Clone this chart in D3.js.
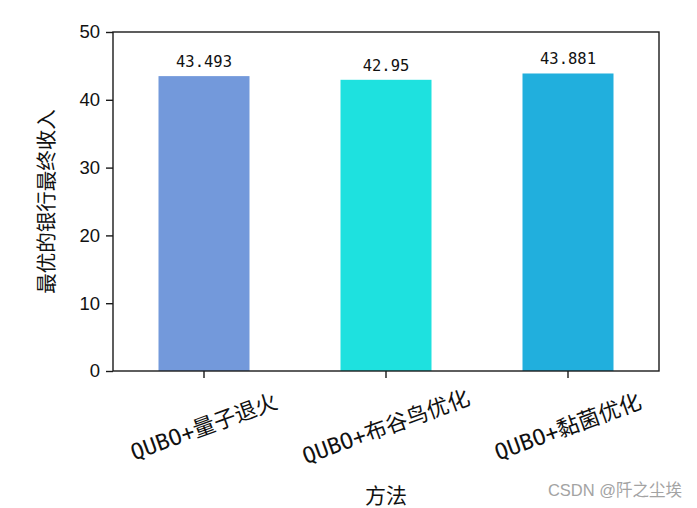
<!DOCTYPE html>
<html><head><meta charset="utf-8">
<script src="https://cdn.jsdelivr.net/npm/d3@7"></script>
<style>body{margin:0;background:#fff;}svg{display:block;}</style>
</head><body>
<script>
const categories = ["QUBO+量子退火", "QUBO+布谷鸟优化", "QUBO+黏菌优化"];
const values = [43.493, 42.95, 43.881];
const valueLabels = ["43.493", "42.95", "43.881"];
const barColors = ["#7399DB", "#1EE1DF", "#21AFDD"];
const yTicks = [0, 10, 20, 30, 40, 50];
const yLabel = "最优的银行最终收入";
const xLabel = "方法";
const watermark = "CSDN @阡之尘埃";

const W = 697, H = 508;
const m = {left: 113, right: 659, top: 32, bottom: 371};
const svg = d3.select("body").append("svg").attr("width", W).attr("height", H);

const x = d3.scaleBand().domain(categories).range([m.left, m.right]).paddingInner(0.5).paddingOuter(0.25);
const y = d3.scaleLinear().domain([0, 50]).range([m.bottom, m.top]);

svg.selectAll("rect.bar").data(categories).join("rect")
  .attr("class", "bar")
  .attr("x", d => x(d)).attr("width", x.bandwidth())
  .attr("y", (d, i) => y(values[i])).attr("height", (d, i) => y(0) - y(values[i]))
  .attr("fill", (d, i) => barColors[i]);

svg.selectAll("text.val").data(categories).join("text")
  .attr("class", "val")
  .attr("x", d => x(d) + x.bandwidth() / 2)
  .attr("y", (d, i) => y(values[i]) - 9)
  .attr("text-anchor", "middle")
  .attr("font-family", "'DejaVu Sans Mono', 'Noto Sans CJK SC', monospace")
  .attr("font-size", 15.5).attr("fill", "#111")
  .text((d, i) => valueLabels[i]);

// frame
svg.append("rect").attr("x", m.left).attr("y", m.top)
  .attr("width", m.right - m.left).attr("height", m.bottom - m.top)
  .attr("fill", "none").attr("stroke", "#1a1a1a").attr("stroke-width", 1.4);

// y axis
const yAxis = svg.append("g").attr("transform", `translate(${m.left},0)`)
  .call(d3.axisLeft(y).tickValues(yTicks).tickSize(7).tickPadding(6).tickFormat(d3.format("d")));
yAxis.select(".domain").remove();
yAxis.selectAll("line").attr("stroke", "#1a1a1a").attr("stroke-width", 1.4);
yAxis.selectAll("text").attr("font-family", "'Liberation Sans', Arial, sans-serif")
  .attr("font-size", 18.5).attr("fill", "#111");

// x axis ticks
const xAxis = svg.append("g").attr("transform", `translate(0,${m.bottom})`)
  .call(d3.axisBottom(x).tickSize(7).tickFormat(""));
xAxis.select(".domain").remove();
xAxis.selectAll("line").attr("stroke", "#1a1a1a").attr("stroke-width", 1.4);

// rotated x tick labels
svg.selectAll("text.xt").data(categories).join("text")
  .attr("class", "xt")
  .attr("transform", d => `translate(${x(d) + x.bandwidth() / 2},427) rotate(-20)`)
  .attr("text-anchor", "middle").attr("dominant-baseline", "central")
  .attr("font-family", "'DejaVu Sans Mono', 'Noto Sans CJK SC', monospace")
  .attr("font-size", 22).attr("fill", "#111")
  .text(d => d);

// axis titles
svg.append("text").attr("x", (m.left + m.right) / 2).attr("y", 494)
  .attr("text-anchor", "middle").attr("dominant-baseline", "central")
  .attr("font-family", "'Noto Sans CJK SC', sans-serif").attr("font-size", 21).attr("fill", "#111")
  .text(xLabel);

svg.append("text").attr("transform", `translate(45,${(m.top + m.bottom) / 2}) rotate(-90)`)
  .attr("text-anchor", "middle").attr("dominant-baseline", "central")
  .attr("font-family", "'Noto Sans CJK SC', sans-serif").attr("font-size", 20.5).attr("fill", "#111")
  .text(yLabel);

// watermark
svg.append("text").attr("x", 682).attr("y", 490)
  .attr("text-anchor", "end").attr("dominant-baseline", "central")
  .attr("font-family", "'Liberation Sans', 'Noto Sans CJK SC', sans-serif").attr("font-size", 16.5)
  .attr("fill", "#a3a3a3")
  .text(watermark);
</script>
</body></html>
